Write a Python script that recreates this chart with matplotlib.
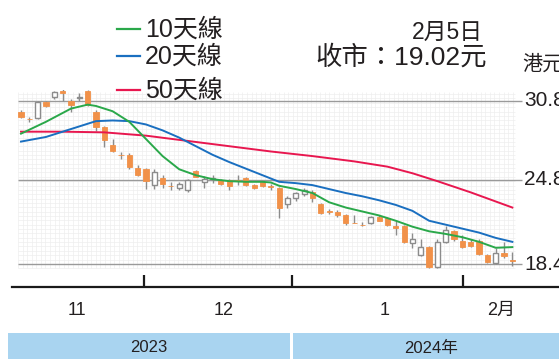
import matplotlib
matplotlib.use('Agg')
import matplotlib.pyplot as plt
import numpy as np
from matplotlib.lines import Line2D
from matplotlib.patches import Rectangle

plt.rcParams['font.family'] = ['Liberation Sans', 'Noto Sans CJK TC']
text_color = '#231f20'

# daily candles, oldest first (open, high, low, close)
opens = [29.95, 29.42, 29.45, 30.7, 31.1, 31.55, 30.8, 31.0, 31.55, 29.95,
         28.8, 27.45, 26.7, 26.7, 25.7, 25.6, 24.4, 24.95, 24.35, 24.2,
         24.0, 25.45, 24.6, 24.85, 24.8, 24.8, 24.75, 24.95, 24.4, 24.6,
         24.3, 24.2, 23.0, 23.4, 23.7, 23.9, 23.0, 22.45, 22.4, 22.1,
         21.55, 21.4, 21.5, 22.0, 21.9, 21.3, 21.3, 20.0, 19.1, 19.7,
         18.2, 20.1, 20.9, 20.2, 20.1, 20.2, 19.1, 18.5, 19.25, 18.72]
highs = [30.1, 29.6, 30.75, 30.8, 31.5, 31.65, 30.9, 31.4, 31.6, 30.1,
         28.9, 27.9, 26.9, 26.8, 25.9, 25.7, 25.6, 25.2, 24.6, 24.6,
         24.85, 25.55, 25.1, 25.2, 24.9, 24.9, 25.2, 25.0, 24.5, 24.65,
         24.45, 24.25, 23.55, 23.9, 24.2, 24.0, 23.05, 22.6, 22.5, 22.2,
         22.1, 21.6, 22.05, 22.1, 22.0, 21.7, 21.35, 20.8, 20.3, 19.75,
         20.3, 21.3, 21.0, 20.6, 20.3, 20.3, 19.2, 19.6, 20.1, 19.3]
lows = [29.5, 29.2, 29.4, 30.3, 30.9, 30.8, 29.95, 30.8, 30.4, 28.5,
        27.3, 26.9, 26.4, 25.6, 25.1, 24.1, 24.1, 24.2, 24.0, 24.05,
        23.9, 25.0, 24.2, 24.55, 24.4, 24.0, 24.4, 24.3, 24.1, 24.25,
        24.0, 21.9, 22.7, 23.2, 23.6, 23.1, 22.2, 22.2, 22.0, 21.4,
        21.5, 21.3, 21.45, 21.65, 21.3, 20.6, 20.0, 19.6, 19.0, 18.1,
        18.1, 20.0, 20.2, 19.6, 19.7, 19.1, 18.5, 18.4, 18.9, 18.3]
closes = [29.57, 29.38, 30.7, 30.4, 31.45, 31.4, 30.45, 31.05, 30.45, 28.8,
          27.8, 27.0, 26.65, 25.8, 25.2, 24.7, 25.4, 24.5, 24.3, 24.5,
          24.8, 25.05, 24.9, 24.9, 24.45, 24.3, 24.7, 24.4, 24.2, 24.35,
          24.25, 22.7, 23.45, 23.8, 24.0, 23.4, 22.3, 22.4, 22.1, 21.5,
          21.5, 21.35, 22.0, 21.7, 21.35, 21.15, 20.1, 20.3, 19.7, 18.2,
          20.1, 21.0, 20.3, 19.7, 19.8, 19.2, 18.6, 19.25, 19.0, 18.68]

# moving averages, read at selected days
ma10_day = [0, 3, 6, 8, 9, 11, 13, 15, 17, 19, 21, 23, 25, 27, 29, 30, 31, 33,
            35, 37, 39, 41, 43, 45, 47, 49, 51, 53, 55, 57, 59]
ma10 = [28.3, 29.2, 30.2, 30.5, 30.4, 30.0, 29.2, 27.9, 26.6, 25.6, 25.15,
        24.85, 24.7, 24.65, 24.65, 24.6, 24.35, 24.1, 23.8, 23.1, 22.7, 22.4,
        22.1, 21.7, 21.25, 20.9, 20.7, 20.45, 20.1, 19.65, 19.7]
ma20_day = [0, 3, 6, 9, 11, 13, 15, 17, 19, 21, 23, 25, 27, 29, 31, 33, 35, 37,
            39, 41, 43, 45, 47, 49, 51, 53, 55, 57, 59]
ma20 = [27.7, 28.05, 28.65, 29.25, 29.3, 29.25, 29.0, 28.55, 28.0, 27.35,
        26.7, 26.15, 25.65, 25.15, 24.65, 24.55, 24.4, 24.1, 23.8, 23.55,
        23.25, 22.9, 22.45, 21.7, 21.4, 21.1, 20.8, 20.4, 20.1]
ma50_day = [0, 5, 10, 15, 20, 25, 30, 35, 40, 44, 47, 50, 54, 59]
ma50 = [28.45, 28.45, 28.4, 28.15, 27.75, 27.35, 26.95, 26.6, 26.2, 25.8,
        25.3, 24.7, 23.85, 22.7]

price_ticks = [18.4, 24.8, 30.8]
months = ['11', '12', '1', '2月']
years = ['2023', '2024年']


def px(x, y):
  return x / 559, 1 - y / 359


def main():
  fig = plt.figure(figsize=(5.59, 3.59), dpi=100)
  ax = fig.add_axes([12 / 559, 1 - 286.7 / 359, 547 / 559, (286.7 - 90) / 359])
  ax.set_xlim(-1.08, 64.6)
  ax.set_ylim(16.70, 31.61)
  ax.patch.set_alpha(0)
  for s in ['top', 'left', 'right']:
    ax.spines[s].set_visible(False)
  ax.spines['bottom'].set_linewidth(1.6)
  ax.spines['bottom'].set_color('#1a1a1a')
  ax.set_yticks([])

  # faint background mesh
  ax.vlines(np.arange(-0.36, 59.3, 0.55), 18.1, 31.45, color='#eeeeee', lw=0.5, zorder=0)
  ax.hlines(np.arange(18.1, 31.5, 0.33), -0.36, 59.3, color='#eeeeee', lw=0.5, zorder=0)

  ax.hlines(price_ticks, -0.36, 60.1, color='#9a9a9a', lw=1.0, zorder=1)
  for v in price_ticks:
    ax.text(60.4, v, '%.1f' % v, fontsize=15, color=text_color, va='center', ha='left', clip_on=False)

  days = np.arange(len(opens))
  o = np.array(opens)
  c = np.array(closes)
  up = c >= o
  ax.vlines(days, lows, highs, color='#8c8c8c', lw=1.0, zorder=2)
  body_lo = np.minimum(o, c)
  body_h = np.maximum(np.abs(c - o), 0.06)
  ax.bar(days[~up], body_h[~up], bottom=body_lo[~up], width=0.62,
         color='#f19149', edgecolor='#f19149', lw=0.6, zorder=3)
  ax.bar(days[up], body_h[up], bottom=body_lo[up], width=0.62,
         color='white', edgecolor='#8c8c8c', lw=1.0, zorder=3)

  ax.plot(ma50_day, ma50, color='#e8174f', lw=1.4, zorder=4)
  ax.plot(ma20_day, ma20, color='#1a6fc0', lw=1.4, zorder=4)
  ax.plot(ma10_day, ma10, color='#2aa84a', lw=1.4, zorder=5)

  # month boundaries and labels
  ax.set_xticks([14.77, 32.53, 53.06])
  ax.set_xticklabels([])
  ax.tick_params(axis='x', which='major', direction='in', length=9, width=1.6, color='#1a1a1a')
  ax.set_xticks([6.72, 24.37, 43.7, 57.6], minor=True)
  ax.set_xticklabels(months, minor=True, fontsize=13, color=text_color)
  ax.tick_params(axis='x', which='minor', length=0, pad=11)

  # legend
  for y, col, lab in [(29, '#2aa84a', '10天線'), (56, '#1a6fc0', '20天線'), (90, '#e8174f', '50天線')]:
    (x0, y0), (x1, _) = px(117, y), px(140, y)
    fig.add_artist(Line2D([x0, x1], [y0, y0], color=col, lw=1.6))
    fig.text(*px(145, y + 1), lab, fontsize=18, color=text_color, va='center', ha='left')

  fig.text(*px(483, 32), '2月5日', fontsize=16.5, color=text_color, va='center', ha='right')
  fig.text(*px(487, 57), '收市：19.02元', fontsize=19, color=text_color, va='center', ha='right')
  fig.text(*px(522, 64), '港元', fontsize=14.5, color=text_color, va='center', ha='left')

  # year band
  for (xa, xb), lab, lx in zip([(8, 290), (293, 562)], years, [149, 431]):
    fig.add_artist(Rectangle(px(xa, 359), (xb - xa) / 559, 26 / 359,
                             transform=fig.transFigure, color='#a9d4f0', lw=0))
    fig.text(*px(lx, 348), lab, fontsize=12, color=text_color, va='center', ha='center')

  fig.savefig('out.png', dpi=100)


if __name__ == '__main__':
  main()
